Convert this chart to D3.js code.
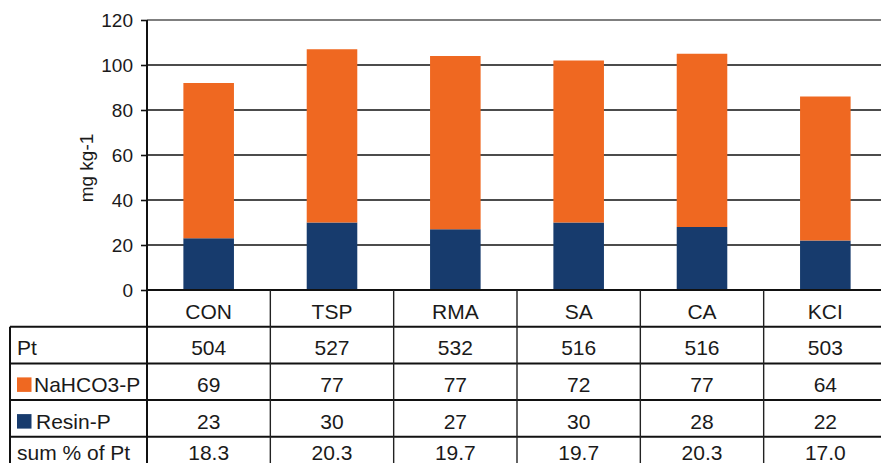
<!DOCTYPE html>
<html>
<head>
<meta charset="utf-8">
<script src="https://cdn.jsdelivr.net/npm/d3@7"></script>
<style>
  body { margin: 0; background: #fff; }
  svg text { font-family: "Liberation Sans", Arial, Helvetica, sans-serif; fill: #1a1a1a; }
</style>
</head>
<body>
<svg id="chart"></svg>
<script>
// data
var categories = ["CON", "TSP", "RMA", "SA", "CA", "KCI"];
var ptValues = [504, 527, 532, 516, 516, 503];
var nahco3 = [69, 77, 77, 72, 77, 64];
var resin = [23, 30, 27, 30, 28, 22];
var sumPct = ["18.3", "20.3", "19.7", "19.7", "20.3", "17.0"];
var yTicks = [0, 20, 40, 60, 80, 100, 120];

var colors = { resin: "#173b6d", nahco3: "#ef6821" };

var screen = { width: 881, height: 463 };
var margins = { left: 147, top: 20, right: -6 };
var plotBottom = 290;
var rowH = 36.7;

var svg = d3.select("#chart")
    .attr("width", screen.width)
    .attr("height", screen.height);

var xScale = d3.scaleBand()
    .domain(categories)
    .range([margins.left, screen.width - margins.right]);

var yScale = d3.scaleLinear()
    .domain([0, 120])
    .range([plotBottom, margins.top]);

// gridlines
svg.append("g")
    .selectAll("line")
    .data(yTicks.filter(function (t) { return t > 0 && t < 120; }))
    .enter().append("line")
    .attr("x1", margins.left).attr("x2", screen.width)
    .attr("y1", function (d) { return yScale(d); })
    .attr("y2", function (d) { return yScale(d); })
    .attr("stroke", "#111").attr("stroke-width", 1.6);

// top border
svg.append("line")
    .attr("x1", margins.left).attr("x2", screen.width)
    .attr("y1", yScale(120)).attr("y2", yScale(120))
    .attr("stroke", "#555").attr("stroke-width", 1.6);

// stacked bars
var rows = categories.map(function (c, i) {
    return { cat: c, resin: resin[i], nahco3: nahco3[i] };
});
var stack = d3.stack().keys(["resin", "nahco3"]);
var barW = xScale.bandwidth() * 0.41;

svg.append("g")
    .selectAll("g")
    .data(stack(rows))
    .enter().append("g")
    .attr("fill", function (s) { return colors[s.key]; })
    .selectAll("rect")
    .data(function (s) { return s; })
    .enter().append("rect")
    .attr("x", function (d) { return xScale(d.data.cat) + (xScale.bandwidth() - barW) / 2; })
    .attr("width", barW)
    .attr("y", function (d) { return yScale(d[1]); })
    .attr("height", function (d) { return yScale(d[0]) - yScale(d[1]); });

// y axis
var yAxis = d3.axisLeft(yScale).tickValues(yTicks).tickSize(6).tickPadding(8);
var yg = svg.append("g")
    .attr("transform", "translate(" + margins.left + ",0)")
    .call(yAxis);
yg.select(".domain").remove();
yg.selectAll(".tick line").attr("stroke", "#111").attr("stroke-width", 1.6);
yg.selectAll(".tick text")
    .attr("font-size", 19)
    .attr("fill", "#1a1a1a")
    .style("font-family", "'Liberation Sans', Arial, sans-serif");

svg.append("line")
    .attr("x1", margins.left).attr("x2", margins.left)
    .attr("y1", margins.top).attr("y2", screen.height)
    .attr("stroke", "#111").attr("stroke-width", 2);

svg.append("text")
    .text("mg kg-1")
    .attr("font-size", 19)
    .attr("text-anchor", "middle")
    .attr("transform", "translate(93,168) rotate(-90)");

// data table
var tableLeft = 10;
var rowY = function (i) { return plotBottom + i * rowH; };

// horizontal rules
svg.append("line")
    .attr("x1", margins.left).attr("x2", screen.width)
    .attr("y1", plotBottom).attr("y2", plotBottom)
    .attr("stroke", "#111").attr("stroke-width", 2);
svg.append("g")
    .selectAll("line")
    .data([1, 2, 3, 4])
    .enter().append("line")
    .attr("x1", tableLeft).attr("x2", screen.width)
    .attr("y1", function (d) { return rowY(d); })
    .attr("y2", function (d) { return rowY(d); })
    .attr("stroke", "#111").attr("stroke-width", 2);

// vertical rules
svg.append("line")
    .attr("x1", tableLeft).attr("x2", tableLeft)
    .attr("y1", rowY(1)).attr("y2", screen.height)
    .attr("stroke", "#111").attr("stroke-width", 2);
svg.append("g")
    .selectAll("line")
    .data(categories.slice(1))
    .enter().append("line")
    .attr("x1", function (d) { return xScale(d); })
    .attr("x2", function (d) { return xScale(d); })
    .attr("y1", plotBottom).attr("y2", screen.height)
    .attr("stroke", "#222").attr("stroke-width", 1.4);

var tableRows = [categories, ptValues, nahco3, resin, sumPct];
var rowLabels = ["", "Pt", "NaHCO3-P", "Resin-P", "sum % of Pt"];
var rowKeys = [null, null, "nahco3", "resin", null];

tableRows.forEach(function (vals, r) {
    // the bottom row is cropped by the figure edge, keep its text inside
    var baseY = Math.min(rowY(r) + 28.5, screen.height - 3);
    svg.append("g")
        .selectAll("text")
        .data(vals)
        .enter().append("text")
        .text(function (d) { return d; })
        .attr("font-size", 21)
        .attr("text-anchor", "middle")
        .attr("x", function (d, i) { return xScale(categories[i]) + xScale.bandwidth() / 2; })
        .attr("y", baseY);

    if (rowLabels[r]) {
        var tx = 17;
        if (rowKeys[r]) {
            svg.append("rect")
                .attr("x", 17).attr("y", baseY - 14.5)
                .attr("width", 14.5).attr("height", 14.5)
                .attr("fill", colors[rowKeys[r]]);
            tx = rowKeys[r] === "resin" ? 36 : 34;
        }
        svg.append("text")
            .text(rowLabels[r])
            .attr("font-size", 21)
            .attr("x", tx)
            .attr("y", baseY);
    }
});
</script>
</body>
</html>
